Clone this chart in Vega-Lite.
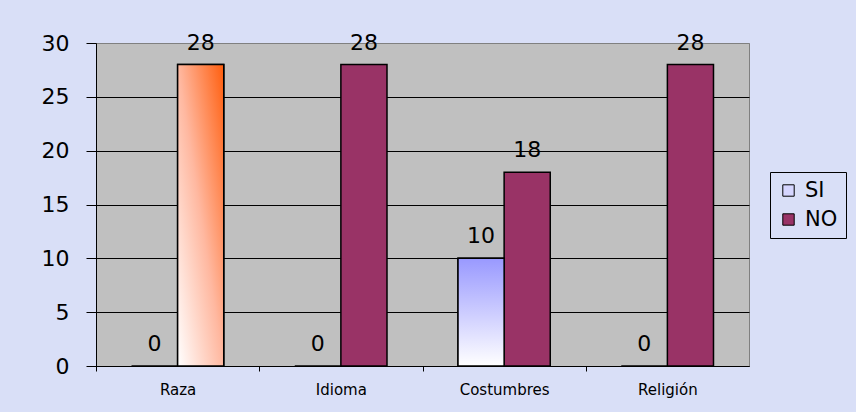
{
  "$schema": "https://vega.github.io/schema/vega-lite/v6.json",
  "autosize": {"type": "none"},
  "width": 653,
  "height": 323,
  "padding": {"left": 96, "top": 43, "right": 107, "bottom": 46},
  "background": "#D9DFF7",
  "view": {"fill": "#C0C0C0", "stroke": "#808080", "strokeWidth": 1},
  "data": {
    "values": [
      {"cat": "Raza", "series": "SI", "value": 0},
      {"cat": "Raza", "series": "NO", "value": 28},
      {"cat": "Idioma", "series": "SI", "value": 0},
      {"cat": "Idioma", "series": "NO", "value": 28},
      {"cat": "Costumbres", "series": "SI", "value": 10},
      {"cat": "Costumbres", "series": "NO", "value": 18},
      {"cat": "Religión", "series": "SI", "value": 0},
      {"cat": "Religión", "series": "NO", "value": 28}
    ]
  },
  "encoding": {
    "x": {
      "field": "cat", "type": "nominal", "sort": null,
      "scale": {"paddingInner": 0.435, "paddingOuter": 0.2175},
      "axis": {
        "title": null, "labelAngle": 0, "labelFont": "DejaVu Sans", "labelFontSize": 15,
        "labelColor": "#000000", "labelPadding": 11, "tickSize": 5, "tickOffset": -81.6, "labelOffset": 81.6,
        "tickColor": "#000000", "domainColor": "#000000", "grid": false
      }
    },
    "xOffset": {"field": "series", "type": "nominal", "sort": ["SI", "NO"], "scale": {"paddingInner": 0, "paddingOuter": 0}},
    "y": {
      "field": "value", "type": "quantitative",
      "scale": {"domain": [0, 30], "nice": false},
      "axis": {
        "title": null, "values": [0, 5, 10, 15, 20, 25, 30], "labelFont": "DejaVu Sans", "labelFontSize": 22,
        "labelColor": "#000000", "labelPadding": 17, "tickSize": 10, "tickColor": "#000000",
        "domainColor": "#000000", "grid": true,
        "gridColor": {"condition": {"test": "datum.value === 30", "value": "#808080"}, "value": "#000000"},
        "gridOpacity": 1
      }
    }
  },
  "layer": [
    {
      "mark": {"type": "bar", "stroke": "#000000", "strokeWidth": 1.5, "opacity": 1},
      "encoding": {
        "color": {
          "field": "series", "type": "nominal",
          "scale": {"domain": ["SI", "NO"], "range": ["#D6D6FF", "#993366"]},
          "legend": {
            "title": null, "orient": "none", "legendX": 674, "legendY": 129,
            "labelFont": "DejaVu Sans", "labelFontSize": 21, "labelColor": "#000000",
            "symbolType": "square", "symbolSize": 130, "symbolStrokeColor": "#000000",
            "symbolStrokeWidth": 1, "padding": 8, "rowPadding": 7, "labelOffset": 6,
            "strokeColor": "#000000", "fillColor": "#D9DFF7"
          }
        }
      }
    },
    {
      "transform": [{"filter": "datum.series === 'SI' && datum.value > 0"}],
      "mark": {
        "type": "bar", "stroke": "#000000", "strokeWidth": 1.5,
        "fill": {"gradient": "linear", "x1": 0, "y1": 0, "x2": 0, "y2": 1,
          "stops": [{"offset": 0, "color": "#9999FF"}, {"offset": 1, "color": "#FFFFFF"}]}
      }
    },
    {
      "transform": [{"filter": "datum.series === 'NO' && datum.cat === 'Raza'"}],
      "mark": {
        "type": "bar", "stroke": "#000000", "strokeWidth": 1.5,
        "fill": {"gradient": "linear", "x1": 1, "y1": 0, "x2": 0, "y2": 1,
          "stops": [{"offset": 0, "color": "#FF5E0E"}, {"offset": 0.5, "color": "#FFB8A0"}, {"offset": 1, "color": "#FFFFFF"}]}
      }
    },
    {
      "mark": {"type": "text", "baseline": "bottom", "dy": -10, "font": "DejaVu Sans", "fontSize": 22, "color": "#000000"},
      "encoding": {"text": {"field": "value", "type": "quantitative"}}
    }
  ]
}
